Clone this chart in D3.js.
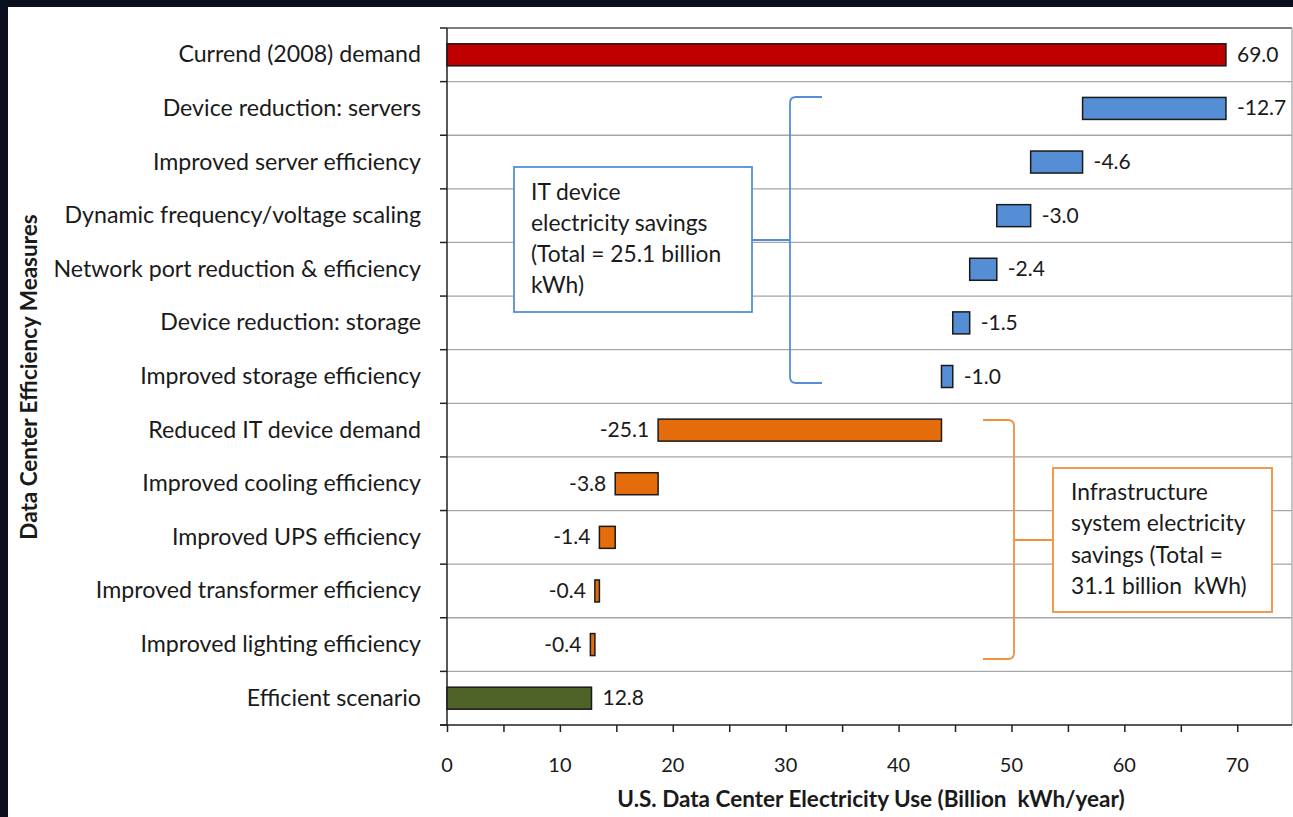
<!DOCTYPE html>
<html>
<head>
<meta charset="utf-8">
<script src="https://cdn.jsdelivr.net/npm/d3@7"></script>
<style>
html,body{margin:0;padding:0;background:#0b0e1c;}
svg{display:block;}
svg text{white-space:pre;}
</style>
</head>
<body>
<svg id="chart" width="1293" height="817"></svg>
<script>
const categories = [
  "Currend (2008) demand",
  "Device reduction: servers",
  "Improved server efficiency",
  "Dynamic frequency/voltage scaling",
  "Network port reduction & efficiency",
  "Device reduction: storage",
  "Improved storage efficiency",
  "Reduced IT device demand",
  "Improved cooling efficiency",
  "Improved UPS efficiency",
  "Improved transformer efficiency",
  "Improved lighting efficiency",
  "Efficient scenario"
];
const values = [69.0, -12.7, -4.6, -3.0, -2.4, -1.5, -1.0, -25.1, -3.8, -1.4, -0.4, -0.4, 12.8];
const barTypes = ["total", "it", "it", "it", "it", "it", "it", "infra", "infra", "infra", "infra", "infra", "final"];
const labels = ["69.0", "-12.7", "-4.6", "-3.0", "-2.4", "-1.5", "-1.0", "-25.1", "-3.8", "-1.4", "-0.4", "-0.4", "12.8"];
const xTickValues = [0, 10, 20, 30, 40, 50, 60, 70];
const xMinorTicks = [0, 5, 10, 15, 20, 25, 30, 35, 40, 45, 50, 55, 60, 65, 70];
const itBoxLines = ["IT device", "electricity savings", "(Total = 25.1 billion", "kWh)"];
const infraBoxLines = ["Infrastructure", "system electricity", "savings (Total =", "31.1 billion  kWh)"];

const colors = {total: "#C00000", it: "#558ED5", infra: "#E46C0A", final: "#4F6228"};
const FONT = "Lato, 'Open Sans', sans-serif";

// compute waterfall extents
let running = 0;
const bars = categories.map((c, i) => {
  const v = values[i];
  let x0, x1;
  if (barTypes[i] === "total" || barTypes[i] === "final") {
    x0 = 0; x1 = v; running = v;
  } else {
    x1 = running; x0 = running + v; running = x0;
  }
  return {cat: c, v, x0, x1, type: barTypes[i], label: labels[i]};
});

const svg = d3.select("#chart");
svg.append("rect").attr("x", 8).attr("y", 7).attr("width", 1293 - 8).attr("height", 817 - 7).attr("fill", "#ffffff");

const pLeft = 447, pRight = 1292, pTop = 28, pBottom = 725;
const x = d3.scaleLinear().domain([0, 74.85]).range([pLeft, pRight]);
const y = d3.scaleBand().domain(categories).range([pTop, pBottom]).padding(0);
const bw = y.bandwidth();

// gridlines
const bounds = d3.range(categories.length + 1).map(k => pTop + k * bw);
svg.append("g").selectAll("line").data(bounds.slice(1, -1)).join("line")
  .attr("x1", pLeft).attr("x2", pRight).attr("y1", d => d).attr("y2", d => d)
  .attr("stroke", "#a6a6a6").attr("stroke-width", 1.3);
svg.append("line").attr("x1", pLeft).attr("x2", pRight).attr("y1", pTop).attr("y2", pTop).attr("stroke", "#555").attr("stroke-width", 1.3);
svg.append("line").attr("x1", pRight).attr("x2", pRight).attr("y1", pTop).attr("y2", pBottom).attr("stroke", "#a6a6a6").attr("stroke-width", 1.3);

// y axis ticks at boundaries
svg.append("g").selectAll("line").data(bounds).join("line")
  .attr("x1", pLeft - 7).attr("x2", pLeft).attr("y1", d => d).attr("y2", d => d)
  .attr("stroke", "#222").attr("stroke-width", 1.5);
svg.append("line").attr("x1", pLeft).attr("x2", pLeft).attr("y1", pTop).attr("y2", pBottom).attr("stroke", "#222").attr("stroke-width", 1.5);

// x axis
const xAxis = d3.axisBottom(x).tickValues(xMinorTicks).tickSize(7).tickFormat("");
const gx = svg.append("g").attr("transform", `translate(0,${pBottom})`).call(xAxis);
gx.select(".domain").attr("d", `M${pLeft - 7},0H${pRight}`).attr("stroke", "#222").attr("stroke-width", 1.5);
gx.selectAll(".tick line").attr("stroke", "#222").attr("stroke-width", 1.5);
svg.append("g").selectAll("text").data(xTickValues).join("text")
  .attr("x", d => x(d)).attr("y", 772).attr("text-anchor", "middle")
  .attr("font-family", FONT).attr("font-size", 20).attr("fill", "#1a1a1a").text(d => d);

// category labels
svg.append("g").selectAll("text").data(categories).join("text")
  .attr("x", 421).attr("y", d => y(d) + bw / 2 + 7.5).attr("text-anchor", "end")
  .attr("font-family", FONT).attr("font-size", 23.2).attr("fill", "#1a1a1a").text(d => d);

// bars
const bh = 22;
svg.append("g").selectAll("rect").data(bars).join("rect")
  .attr("x", d => x(d.x0)).attr("width", d => x(d.x1) - x(d.x0))
  .attr("y", d => y(d.cat) + bw / 2 - bh / 2).attr("height", bh)
  .attr("fill", d => colors[d.type]).attr("stroke", "#1a1a1a").attr("stroke-width", 1.5);

// value labels
svg.append("g").selectAll("text").data(bars).join("text")
  .attr("x", d => d.type === "infra" ? x(d.x0) - 9 : x(d.x1) + 11)
  .attr("text-anchor", d => d.type === "infra" ? "end" : "start")
  .attr("y", d => y(d.cat) + bw / 2 + 7)
  .attr("font-family", FONT).attr("font-size", 21).attr("fill", "#1a1a1a").text(d => d.label);

// axis titles
svg.append("text").attr("x", 871).attr("y", 807).attr("text-anchor", "middle")
  .attr("font-family", FONT).attr("font-weight", "bold").attr("font-size", 22.5).attr("fill", "#1a1a1a")
  .text("U.S. Data Center Electricity Use (Billion  kWh/year)");
svg.append("text").attr("transform", "translate(37,377) rotate(-90)").attr("text-anchor", "middle")
  .attr("font-family", FONT).attr("font-weight", "bold").attr("font-size", 22.5).attr("fill", "#1a1a1a")
  .text("Data Center Efficiency Measures");

// IT bracket
const blue = "#558ED5";
const itTop = 97, itBot = 383, itX = 790, itHook = 822, itMid = 240;
svg.append("path").attr("d",
  `M${itHook},${itTop} L${itX + 6},${itTop} Q${itX},${itTop} ${itX},${itTop + 6} L${itX},${itBot - 6} Q${itX},${itBot} ${itX + 6},${itBot} L${itHook},${itBot} M${752},${itMid} L${itX},${itMid}`)
  .attr("fill", "none").attr("stroke", blue).attr("stroke-width", 1.8);
svg.append("rect").attr("x", 514).attr("y", 167).attr("width", 238).attr("height", 145)
  .attr("fill", "#fff").attr("stroke", blue).attr("stroke-width", 1.8);
svg.append("g").selectAll("text").data(itBoxLines).join("text")
  .attr("x", 531).attr("y", (d, i) => 200 + i * 31)
  .attr("font-family", FONT).attr("font-size", 22.8).attr("fill", "#1a1a1a").text(d => d);

// Infra bracket
const orange = "#F0913F";
const inTop = 420, inBot = 659, inX = 1014, inHook = 983, inMid = 540;
svg.append("path").attr("d",
  `M${inHook},${inTop} L${inX - 6},${inTop} Q${inX},${inTop} ${inX},${inTop + 6} L${inX},${inBot - 6} Q${inX},${inBot} ${inX - 6},${inBot} L${inHook},${inBot} M${inX},${inMid} L${1053},${inMid}`)
  .attr("fill", "none").attr("stroke", orange).attr("stroke-width", 1.8);
svg.append("rect").attr("x", 1053).attr("y", 468).attr("width", 219).attr("height", 144)
  .attr("fill", "#fff").attr("stroke", orange).attr("stroke-width", 1.8);
svg.append("g").selectAll("text").data(infraBoxLines).join("text")
  .attr("x", 1071).attr("y", (d, i) => 500 + i * 31.3)
  .attr("font-family", FONT).attr("font-size", 22.8).attr("fill", "#1a1a1a").text(d => d);
</script>
</body>
</html>
